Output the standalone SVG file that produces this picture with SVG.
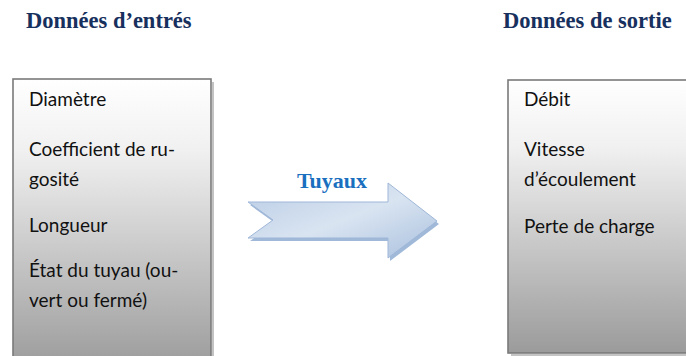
<svg xmlns="http://www.w3.org/2000/svg" width="686" height="356" viewBox="0 0 686 356">
  <defs>
    <linearGradient id="boxFill" x1="0" y1="0" x2="0" y2="1">
      <stop offset="0" stop-color="#ffffff"/>
      <stop offset="0.25" stop-color="#f0f0f0"/>
      <stop offset="1" stop-color="#9b9b9b"/>
    </linearGradient>
    <linearGradient id="arrowFill" x1="0" y1="0" x2="1" y2="1">
      <stop offset="0" stop-color="#b9cce5"/>
      <stop offset="0.5" stop-color="#d9e4f1"/>
      <stop offset="1" stop-color="#a9c0de"/>
    </linearGradient>
    <style>
      .title { font-family: "Liberation Serif", "Times New Roman", serif; font-weight: bold; font-size: 22.5px; fill: #17305e; }
      .label { font-family: "Lato", "Liberation Sans", sans-serif; font-size: 19px; fill: #111111; }
      .box { fill: url(#boxFill); stroke: #7a7a7a; stroke-width: 1.6; }
      .boxShadow { fill: none; stroke: #b0b0b0; stroke-width: 1.5; }
      .arrowName { font-family: "Liberation Serif", "Times New Roman", serif; font-weight: bold; font-size: 22px; fill: #1a6fbf; }
    </style>
  </defs>

  <rect width="686" height="356" fill="#ffffff"/>

  <!-- Input data -->
  <g id="inputs">
    <text class="title" x="26" y="28">Données d’entrés</text>
    <path class="boxShadow" d="M213 82 V360 M16 358 H213"/>
    <rect class="box" x="13" y="79" width="198" height="290"/>
    <text class="label" x="29" y="106">Diamètre</text>
    <text class="label" x="29" y="156">Coefficient de ru-</text>
    <text class="label" x="29" y="186">gosité</text>
    <text class="label" x="29" y="232">Longueur</text>
    <text class="label" x="29" y="277">État du tuyau (ou-</text>
    <text class="label" x="29" y="307">vert ou fermé)</text>
  </g>

  <!-- Output data -->
  <g id="outputs">
    <text class="title" x="503" y="28">Données de sortie</text>
    <path class="boxShadow" d="M511 355 H690"/>
    <rect class="box" x="508" y="80" width="190" height="273"/>
    <text class="label" x="524" y="106">Débit</text>
    <text class="label" x="524" y="156">Vitesse</text>
    <text class="label" x="524" y="186">d’écoulement</text>
    <text class="label" x="524" y="233">Perte de charge</text>
  </g>

  <!-- Process arrow -->
  <g id="connectors">
    <text class="arrowName" x="332" y="188" text-anchor="middle">Tuyaux</text>
    <path d="M250 205 H390 V186 L439 224 L390 261 V241 H250 L275 223 Z" fill="#8aa7cf" opacity="0.8"/>
    <path d="M248 202 H388 V183 L437 221 L388 258 V238 H248 L273 220 Z" fill="url(#arrowFill)" stroke="#9fb7d8" stroke-width="1"/>
  </g>
</svg>
